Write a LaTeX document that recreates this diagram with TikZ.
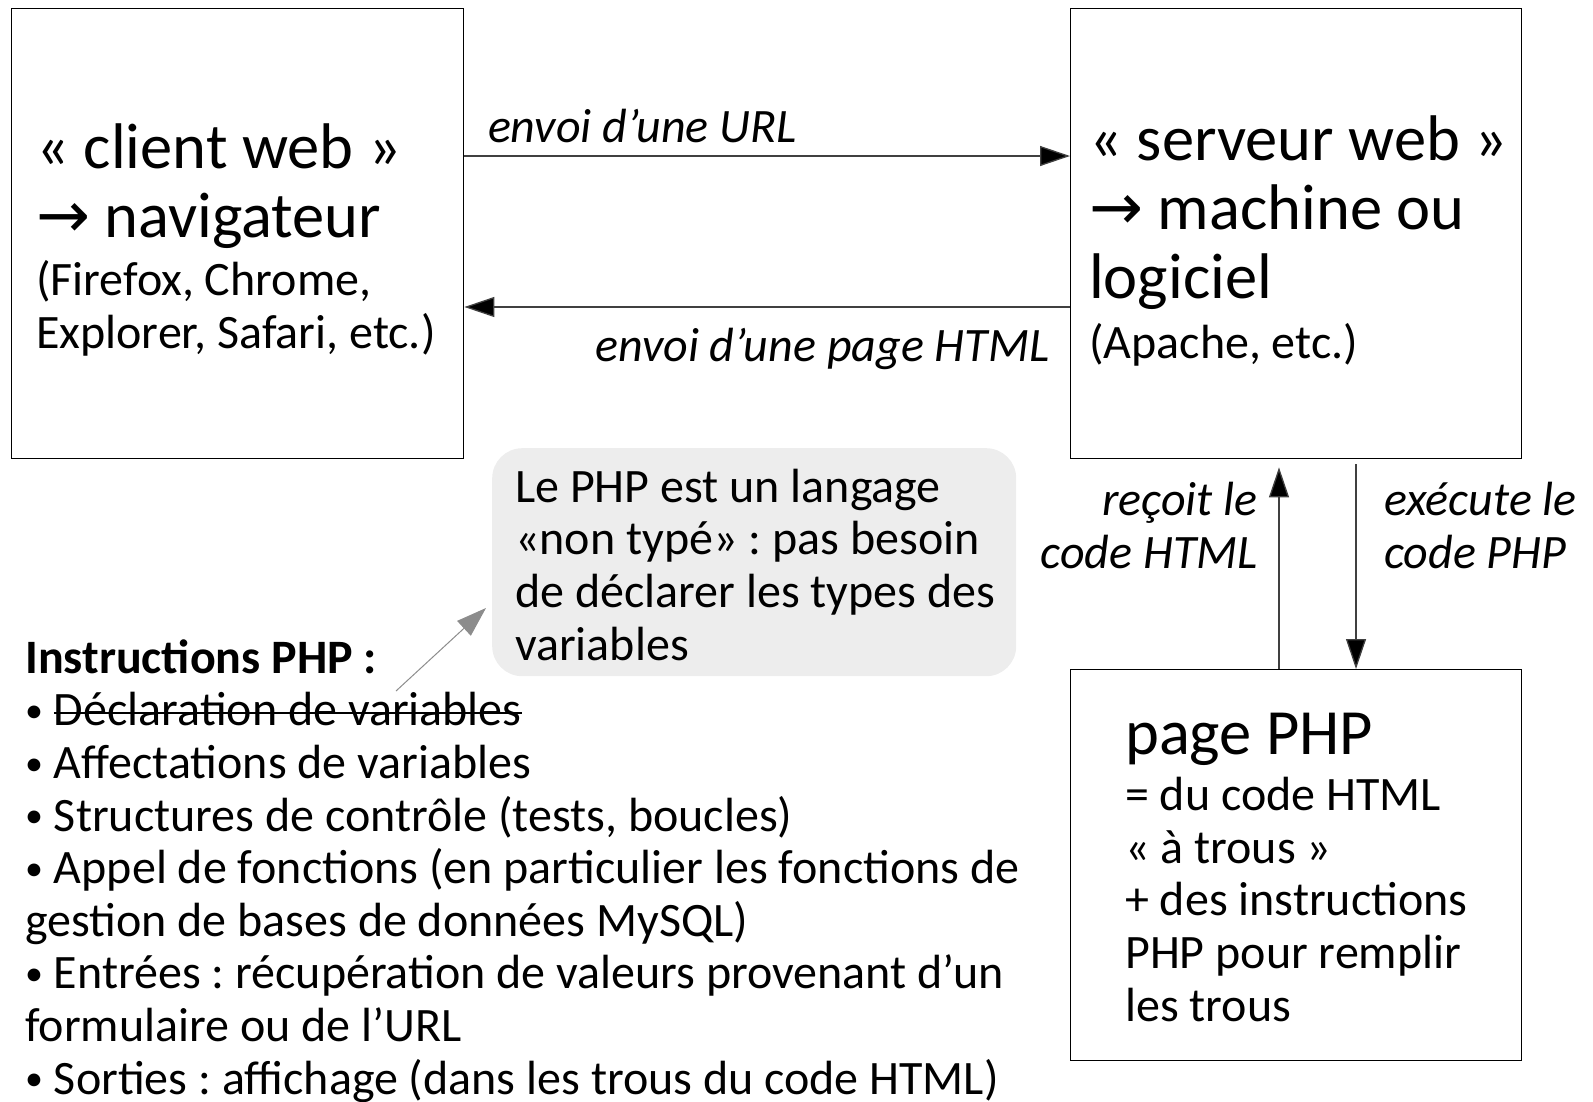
\documentclass[tikz,border=0pt]{standalone}
\usepackage{fontspec}
\usepackage{graphicx}
\setmainfont{Carlito}
\newfontfamily\fleches{DejaVu Sans}
\usetikzlibrary{arrows.meta}
\frenchspacing

\newsavebox\barrebox
\newcommand\barre[1]{\sbox\barrebox{#1}\rlap{\rule[0.25em]{\wd\barrebox}{1.8pt}}\usebox\barrebox}
\newcommand\versdroite{{\fleches →}}
\newcommand\puce{\raisebox{0.07em}{\scalebox{0.75}{•}}}

\tikzset{
  boite/.style = {draw, line width = 1.4pt, anchor = north west},
  fleche/.style = {line width = 1.3pt, draw = black!75,
    -{Triangle[length = 30pt, width = 20pt, fill = black]}},
  grand/.style = {font = \fontsize{64.5}{68.6}\selectfont, align = left,
    anchor = base west, inner sep = 0},
  petit/.style = {font = \fontsize{48}{52.6}\selectfont, align = left,
    anchor = base west, inner sep = 0},
  etiquette/.style = {petit, font = \fontsize{48}{52.6}\selectfont\itshape},
}

\begin{document}
\begin{tikzpicture}[x = 1pt, y = -1pt]
  \useasboundingbox (0, 0) rectangle (1593, 1101);

  % les trois boites
  \node[boite, minimum width = 452, minimum height = 450] (client) at (11, 8) {};
  \node[boite, minimum width = 451, minimum height = 450] (serveur) at (1070, 8) {};
  \node[boite, minimum width = 451, minimum height = 391] (pagephp) at (1070, 669) {};
  \node[anchor = north west, fill = black!7, rounded corners = 30pt,
  minimum width = 524, minimum height = 228] (remarque) at (492, 448) {};

  % textes des boites (placés sur la ligne de base de la dernière ligne)
  \node[grand] (clienttitre) at (36, 237) {« client web »\\\versdroite{} navigateur};
  \node[petit] (clientdetail) at (36, 348) {(Firefox, Chrome,\\Explorer, Safari, etc.)};
  \node[grand] (serveurtitre) at (1089, 298) {« serveur web »\\\versdroite{} machine ou\\logiciel};
  \node[petit] (serveurdetail) at (1089, 358) {(Apache, etc.)};
  \node[grand] (phptitre) at (1125, 754) {page PHP};
  \node[petit] (phpdetail) at (1125, 1021) {= du code HTML\\« à trous »\\+ des instructions\\PHP pour remplir\\les trous};
  \node[petit] (remarquetexte) at (515, 660) {Le PHP est un langage\\«non typé» : pas besoin\\de déclarer les types des\\variables};

  % liste des instructions
  \node[petit] (instructions) at (25, 1094) {\textbf{Instructions PHP :}\\
    \puce{} \barre{Déclaration de variables}\\
    \puce{} Affectations de variables\\
    \puce{} Structures de contrôle (tests, boucles)\\
    \puce{} Appel de fonctions (en particulier les fonctions de\\
    gestion de bases de données MySQL)\\
    \puce{} Entrées : récupération de valeurs provenant d’un\\
    formulaire ou de l’URL\\
    \puce{} Sorties : affichage (dans les trous du code HTML)};

  % echanges client / serveur
  \draw[fleche] (client.east |- 0, 156) -- (serveur.west |- 0, 156)
  node[etiquette, pos = 0, anchor = base west, xshift = 23, yshift = 14] {envoi d’une URL};
  \draw[fleche] (serveur.west |- 0, 307) -- (client.east |- 0, 307)
  node[etiquette, pos = 0, anchor = base east, xshift = -20, yshift = -54] {envoi d’une page HTML};

  \draw[fleche, shorten > = 8pt] (pagephp.north -| 1279, 0) -- (serveur.south -| 1279, 0);
  \draw[fleche, shorten < = 5pt] (serveur.south -| 1356, 0) -- (pagephp.north -| 1356, 0);
  \node[etiquette, anchor = base east, align = right] (recoit) at (1258, 568) {reçoit le\\code HTML};
  \node[etiquette] (execute) at (1384, 568) {exécute le\\code PHP};

  % fleche vers la remarque
  \coordinate (pointe) at (486, 608);
  \draw[draw = black!45, line width = 1pt,
  -{Triangle[length = 30pt, width = 20pt]}] (396, 691) -- (pointe);
\end{tikzpicture}
\end{document}
